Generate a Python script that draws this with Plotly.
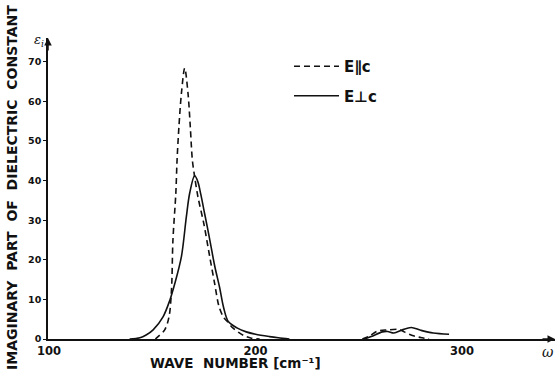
import plotly.graph_objects as go

# E || c (dashed) main peak and small band
par_x = [151.5, 152.8, 156, 158.1, 159.3, 160, 161.4, 162, 162.9, 164.1, 165.7,
         167.3, 168.4, 169.4, 170.5, 172.1, 175, 177.8, 180.2, 182.3, 184.5, 186.5,
         189, 192, 195, 198, 202]
par_y = [0, 0.6, 2.3, 5.6, 12.4, 25, 36.8, 45.2, 53.6, 62, 68.4,
         62, 53.6, 45.2, 41, 35.9, 29, 20.8, 14, 8.2, 5.5, 4.3,
         2.8, 1.6, 0.7, 0.2, 0]
par2_x = [251.7, 255, 259, 264, 269.6, 272, 274.4, 278, 280.7, 284]
par2_y = [0, 0.7, 2.0, 2.3, 2.4, 1.8, 1.2, 0.6, 0.3, 0]

# E _|_ c (solid) main peak and small band
perp_x = [139, 144, 147, 150.4, 155.2, 158.5, 160.9, 164.1, 166.5, 168.1, 170.5,
          172, 173.5, 175.4, 177.5, 180.2, 182.6, 184.5, 186.8, 191, 195.5, 200,
          206.8, 211, 216.4]
perp_y = [0, 0.3, 1.0, 2.3, 5.6, 9.8, 14, 20.8, 30.9, 36.8, 41.2,
          39.8, 36.5, 31.5, 26, 18.5, 13, 8, 4.4, 2.8, 1.8, 1.2,
          0.6, 0.3, 0]
perp2_x = [252.7, 256, 261.4, 264, 267, 271, 275.4, 280, 286, 293.7]
perp2_y = [0, 0.6, 1.8, 1.9, 1.5, 2.3, 2.9, 2.2, 1.5, 1.2]

x_ticks = [100, 200, 300]
y_ticks = [0, 10, 20, 30, 40, 50, 60, 70]

BOLD = "DejaVu Sans"
INK = "#111111"

ML, MR, MT, MB = 48, 4, 38, 31
W = 559 - ML - MR
H = 370 - MT - MB


def px_to_paper(px, py):
    return (px - ML) / W, (370 - MB - py) / H


fig = go.Figure()
fig.add_trace(go.Scatter(x=par_x + [None] + par2_x, y=par_y + [None] + par2_y,
                         mode="lines", name="E\u2225c", legendgroup="a",
                         line=dict(color=INK, width=1.6, dash="6px,4px", shape="spline", smoothing=0.9),
                         connectgaps=False))
fig.add_trace(go.Scatter(x=perp_x + [None] + perp2_x, y=perp_y + [None] + perp2_y,
                         mode="lines", name="E\u22a5c", legendgroup="b",
                         line=dict(color=INK, width=1.6, shape="spline", smoothing=0.9),
                         connectgaps=False))

lx, ly = px_to_paper(289, 50)
fig.update_layout(
    width=559, height=370,
    margin=dict(l=ML, r=MR, t=MT, b=MB),
    paper_bgcolor="white", plot_bgcolor="white",
    showlegend=True,
    legend=dict(x=lx, y=ly, xanchor="left", yanchor="top", itemwidth=45,
                bgcolor="rgba(0,0,0,0)", borderwidth=0, tracegroupgap=7,
                font=dict(family=BOLD, size=15, color=INK, weight="bold")),
    xaxis=dict(range=[99.5, 345], showgrid=False, zeroline=False,
               showline=True, linecolor=INK, linewidth=1.5,
               tickvals=x_ticks, ticktext=[str(v) for v in x_ticks],
               ticks="", ticklabelstandoff=0,
               tickfont=dict(family=BOLD, size=11.5, color=INK, weight="bold")),
    yaxis=dict(range=[0, 76], showgrid=False, zeroline=False,
               showline=True, linecolor=INK, linewidth=1.5,
               tickvals=y_ticks, ticktext=[str(v) for v in y_ticks],
               ticks="outside", ticklen=3, tickcolor=INK, tickwidth=1,
               tickfont=dict(family=BOLD, size=9.5, color=INK, weight="bold")),
)

# axis arrowheads
fig.add_annotation(x=0, y=1.0, xref="paper", yref="paper", ax=0, ay=14, axref="pixel", ayref="pixel",
                   showarrow=True, arrowhead=2, arrowsize=1, arrowwidth=1.5, arrowcolor=INK, text="")
fig.add_annotation(x=1.0, y=0, xref="paper", yref="paper", ax=-14, ay=0, axref="pixel", ayref="pixel",
                   showarrow=True, arrowhead=2, arrowsize=1, arrowwidth=1.5, arrowcolor=INK, text="")

# axis symbols
ex, ey = px_to_paper(39, 40)
fig.add_annotation(x=ex, y=ey, xref="paper", yref="paper", showarrow=False,
                   xanchor="center", yanchor="middle",
                   text="<i>\u03b5<sub>i</sub></i>", font=dict(family="DejaVu Serif", size=13, color=INK))
wx, wy = px_to_paper(548, 352)
fig.add_annotation(x=wx, y=wy, xref="paper", yref="paper", showarrow=False,
                   xanchor="center", yanchor="middle",
                   text="<i>\u03c9</i>", font=dict(family="DejaVu Serif", size=14, color=INK))

# axis titles
tx, ty = px_to_paper(235, 363)
fig.add_annotation(x=tx, y=ty, xref="paper", yref="paper", showarrow=False,
                   xanchor="center", yanchor="middle",
                   text="WAVE\u00a0\u00a0NUMBER [cm\u207b\u00b9]",
                   font=dict(family=BOLD, size=13.5, color=INK, weight="bold"))
yx, yy = px_to_paper(12, 188)
fig.add_annotation(x=yx, y=yy, xref="paper", yref="paper", showarrow=False, textangle=-90,
                   xanchor="center", yanchor="middle",
                   text="IMAGINARY\u00a0 PART\u00a0 OF\u00a0 DIELECTRIC\u00a0 CONSTANT",
                   font=dict(family=BOLD, size=14, color=INK, weight="bold"))

fig.write_html("out.html")
